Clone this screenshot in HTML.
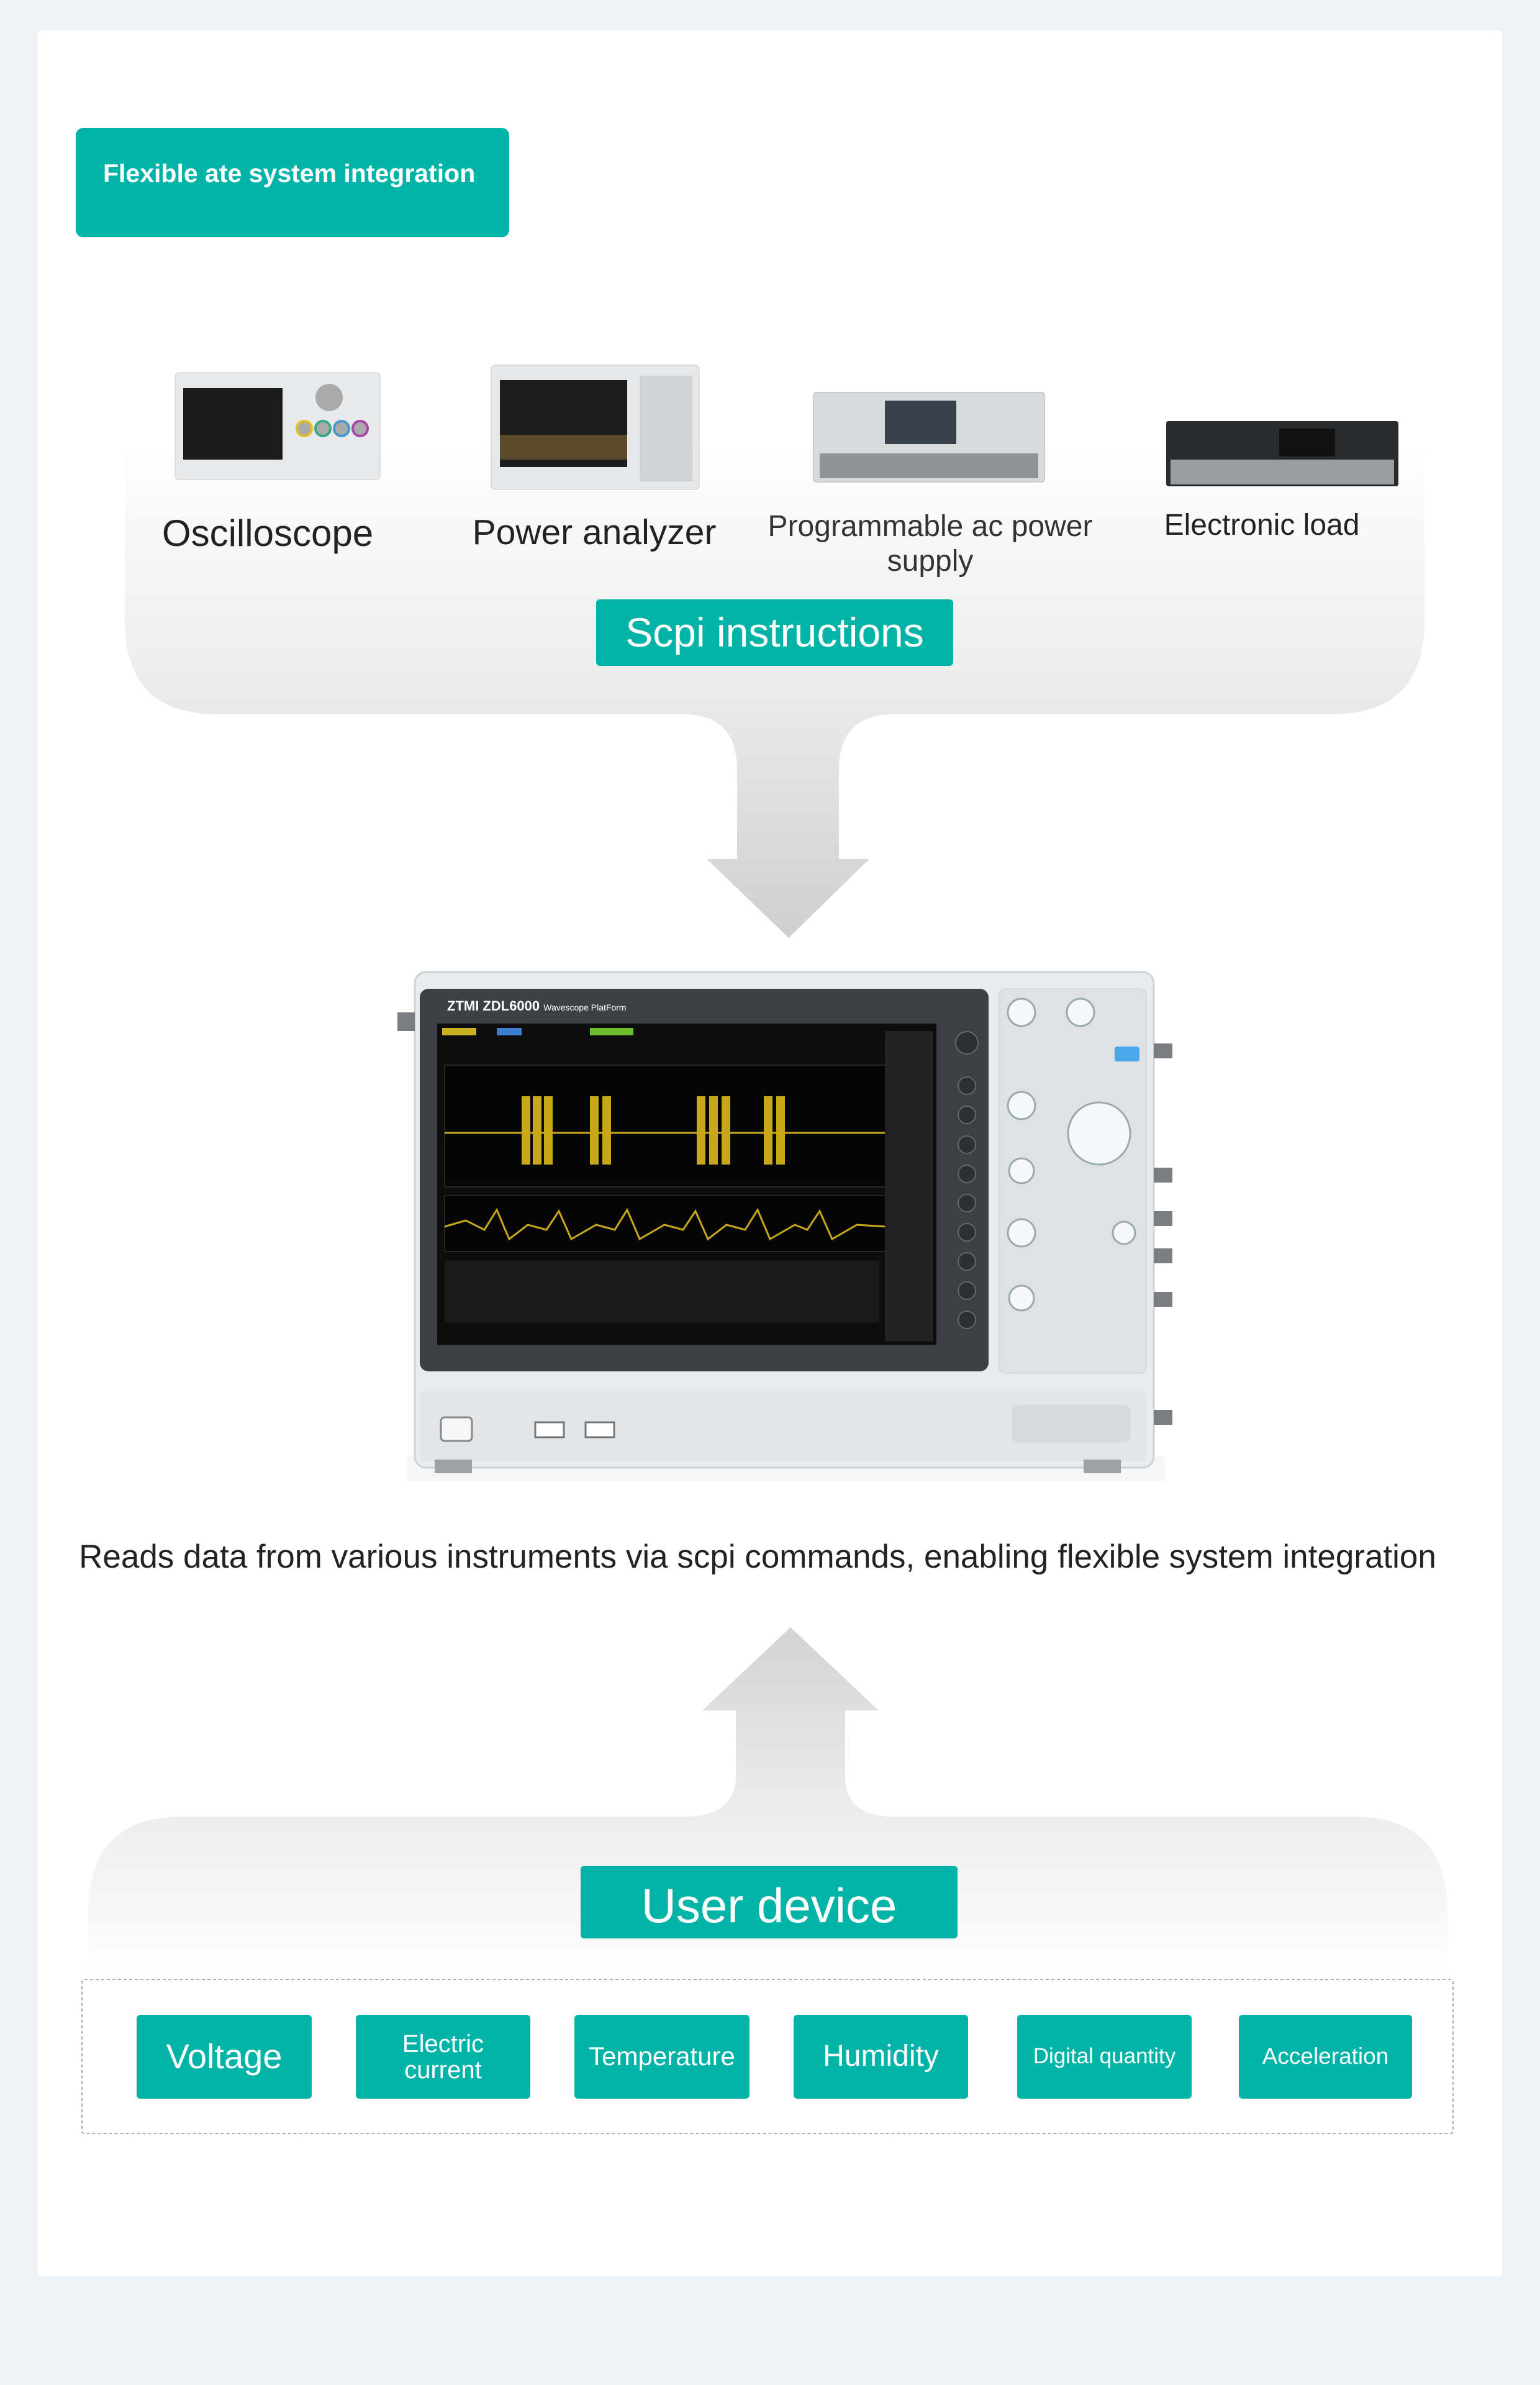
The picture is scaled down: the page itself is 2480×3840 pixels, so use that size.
<!DOCTYPE html>
<html><head><meta charset="utf-8"><style>
html,body{margin:0;padding:0}
body{width:2480px;height:3840px;background:#eef3f8;position:relative;overflow:hidden;font-family:"Liberation Sans",sans-serif}
.card{position:absolute;left:61px;top:49px;width:2358px;height:3616px;background:#fff;border-radius:6px}
.btn{position:absolute;background:#02b3a7;color:#fff;display:flex;align-items:center;justify-content:center;text-align:center;border-radius:6px;line-height:1.05}
.lbl{position:absolute;color:#222;text-align:center;transform:translateX(-50%);white-space:nowrap}
svg{position:absolute;left:0;top:0}
</style></head><body>
<div class="card"></div>
<svg width="2480" height="3840" viewBox="0 0 2480 3840">
<defs>
<linearGradient id="g1" x1="0" y1="700" x2="0" y2="1510" gradientUnits="userSpaceOnUse">
<stop offset="0" stop-color="#fff"/><stop offset="0.45" stop-color="#eeeeee"/><stop offset="1" stop-color="#cfcfcf"/></linearGradient>
<linearGradient id="g2" x1="0" y1="2620" x2="0" y2="3190" gradientUnits="userSpaceOnUse">
<stop offset="0" stop-color="#d3d3d3"/><stop offset="0.55" stop-color="#eeeeee"/><stop offset="1" stop-color="#fff"/></linearGradient>
</defs>
<path d="M201,720 L201,1000 Q201,1150 351,1150 L1100,1150 Q1187,1150 1187,1240 L1187,1383 L1138,1383 L1270,1510 L1400,1383 L1351,1383 L1351,1240 Q1351,1150 1440,1150 L2144,1150 Q2294,1150 2294,1000 L2294,720 Z" fill="url(#g1)"/>
<path d="M1273,2620 L1415,2754 L1361,2754 L1361,2860 Q1361,2925 1440,2925 L2180,2925 Q2331,2925 2331,3080 L2331,3190 L142,3190 L142,3080 Q142,2925 293,2925 L1100,2925 Q1185,2925 1185,2860 L1185,2754 L1131,2754 Z" fill="url(#g2)"/>
<rect x="132" y="3187" width="2208" height="248" fill="#fff" stroke="#aaa" stroke-width="2" stroke-dasharray="5,4" rx="4"/>
<rect x="282" y="600" width="330" height="172" rx="6" fill="#e8e9ea" stroke="#ccc"/>
<rect x="295" y="625" width="160" height="115" fill="#1b1b1b"/>
<g fill="#aaa"><circle cx="490" cy="690" r="12" stroke="#e0c020" stroke-width="4"/><circle cx="520" cy="690" r="12" stroke="#3a8" stroke-width="4"/><circle cx="550" cy="690" r="12" stroke="#49c" stroke-width="4"/><circle cx="580" cy="690" r="12" stroke="#a4a" stroke-width="4"/><circle cx="530" cy="640" r="22"/></g>
<rect x="791" y="588" width="335" height="200" rx="6" fill="#e6e7e8" stroke="#ccc"/>
<rect x="805" y="612" width="205" height="140" fill="#1d1d1d"/>
<rect x="805" y="700" width="205" height="40" fill="#5a4a2a"/>
<rect x="1030" y="605" width="85" height="170" fill="#d0d2d4"/>
<rect x="1310" y="632" width="372" height="144" rx="4" fill="#d8dadc" stroke="#aaa"/>
<rect x="1425" y="645" width="115" height="70" fill="#38414a"/>
<rect x="1320" y="730" width="352" height="40" fill="#8f9296"/>
<rect x="1878" y="678" width="374" height="105" rx="4" fill="#2a2b2d"/>
<rect x="1885" y="740" width="360" height="40" fill="#9a9ca0"/>
<rect x="2060" y="690" width="90" height="45" fill="#111"/>
<rect x="655" y="2345" width="1220" height="40" fill="#f0f0f0" opacity=".6"/>
<rect x="668" y="1565" width="1190" height="798" rx="18" fill="#e9ebed" stroke="#cfd2d5" stroke-width="3"/>
<rect x="640" y="1630" width="28" height="30" fill="#7a7e83"/>
<rect x="1858" y="1680" width="30" height="24" fill="#7a7e83"/>
<rect x="1858" y="1880" width="30" height="24" fill="#7a7e83"/>
<rect x="1858" y="1950" width="30" height="24" fill="#7a7e83"/>
<rect x="1858" y="2010" width="30" height="24" fill="#7a7e83"/>
<rect x="1858" y="2080" width="30" height="24" fill="#7a7e83"/>
<rect x="1858" y="2270" width="30" height="24" fill="#7a7e83"/>
<rect x="676" y="1592" width="916" height="616" rx="14" fill="#3c4045"/>
<text x="720" y="1627" font-size="22" fill="#fff" font-weight="bold" font-family="Liberation Sans, sans-serif">ZTMI ZDL6000 <tspan font-size="14" font-weight="normal">Wavescope PlatForm</tspan></text>
<rect x="704" y="1648" width="804" height="517" fill="#0c0c0c"/>
<rect x="712" y="1655" width="55" height="12" fill="#c9b020"/><rect x="800" y="1655" width="40" height="12" fill="#3a7fd0"/><rect x="950" y="1655" width="70" height="12" fill="#6cbf2a"/>
<rect x="716" y="1715" width="712" height="196" fill="#050505" stroke="#444"/>
<line x1="716" y1="1824" x2="1428" y2="1824" stroke="#c8a818" stroke-width="3"/>
<g fill="#c8a818"><rect x="840" y="1765" width="14" height="110"/><rect x="858" y="1765" width="14" height="110"/><rect x="876" y="1765" width="14" height="110"/><rect x="950" y="1765" width="14" height="110"/><rect x="970" y="1765" width="14" height="110"/><rect x="1122" y="1765" width="14" height="110"/><rect x="1142" y="1765" width="14" height="110"/><rect x="1162" y="1765" width="14" height="110"/><rect x="1230" y="1765" width="14" height="110"/><rect x="1250" y="1765" width="14" height="110"/></g>
<rect x="716" y="1925" width="712" height="90" fill="#050505" stroke="#444"/>
<polyline points="716,1975 750,1965 780,1980 800,1948 820,1995 850,1972 880,1980 900,1950 920,1995 960,1972 990,1980 1010,1948 1030,1995 1070,1972 1100,1980 1120,1950 1140,1995 1170,1972 1200,1980 1220,1948 1240,1995 1280,1972 1300,1980 1320,1950 1340,1995 1380,1972 1428,1975" fill="none" stroke="#c8a818" stroke-width="3"/>
<rect x="716" y="2030" width="700" height="100" fill="#1a1a1a"/>
<rect x="1425" y="1660" width="78" height="500" fill="#222"/>
<g fill="#2c2f33" stroke="#666" stroke-width="2"><circle cx="1557" cy="1679" r="18"/><circle cx="1557" cy="1748" r="14"/><circle cx="1557" cy="1795" r="14"/><circle cx="1557" cy="1843" r="14"/><circle cx="1557" cy="1890" r="14"/><circle cx="1557" cy="1937" r="14"/><circle cx="1557" cy="1984" r="14"/><circle cx="1557" cy="2031" r="14"/><circle cx="1557" cy="2078" r="14"/><circle cx="1557" cy="2125" r="14"/></g>
<rect x="1609" y="1592" width="237" height="619" rx="10" fill="#dfe2e5" stroke="#c8ccd0"/>
<g fill="#f6f7f8" stroke="#9aa" stroke-width="3"><circle cx="1645" cy="1630" r="22"/><circle cx="1740" cy="1630" r="22"/><circle cx="1645" cy="1780" r="22"/><circle cx="1770" cy="1825" r="50"/><circle cx="1645" cy="1885" r="20"/><circle cx="1645" cy="1985" r="22"/><circle cx="1810" cy="1985" r="18"/><circle cx="1645" cy="2090" r="20"/></g>
<rect x="1795" y="1685" width="40" height="24" rx="4" fill="#4aa8e8"/>
<rect x="676" y="2240" width="1170" height="113" rx="6" fill="#e3e6e9"/>
<rect x="710" y="2282" width="50" height="38" rx="6" fill="#f6f6f6" stroke="#888" stroke-width="3"/>
<rect x="862" y="2290" width="46" height="24" fill="#fff" stroke="#777" stroke-width="3"/>
<rect x="943" y="2290" width="46" height="24" fill="#fff" stroke="#777" stroke-width="3"/>
<rect x="1630" y="2262" width="190" height="60" rx="10" fill="#d6d9dc"/>
<rect x="700" y="2350" width="60" height="22" fill="#9ea2a6"/><rect x="1745" y="2350" width="60" height="22" fill="#9ea2a6"/>
</svg>
<div class="btn" style="left:122px;top:206px;width:698px;height:176px;font-size:41px;font-weight:bold;align-items:flex-start;justify-content:flex-start;padding-left:44px;padding-top:52px;box-sizing:border-box;border-radius:12px">Flexible ate system integration</div>
<div class="lbl" style="left:431px;top:824px;font-size:60px">Oscilloscope</div>
<div class="lbl" style="left:957px;top:824px;font-size:57px">Power analyzer</div>
<div class="lbl" style="left:1498px;top:820px;font-size:48px;line-height:56px;color:#333">Programmable ac power<br>supply</div>
<div class="lbl" style="left:2032px;top:818px;font-size:48px">Electronic load</div>
<div class="btn" style="left:960px;top:965px;width:575px;height:107px;font-size:66px">Scpi instructions</div>
<div class="lbl" style="left:1220px;top:2476px;font-size:53px">Reads data from various instruments via scpi commands, enabling flexible system integration</div>
<div class="btn" style="left:935px;top:3004px;width:607px;height:117px;font-size:78px;padding-top:12px;box-sizing:border-box">User device</div>
<div class="btn" style="left:220px;top:3244px;width:282px;height:135px;font-size:56px">Voltage</div>
<div class="btn" style="left:573px;top:3244px;width:281px;height:135px;font-size:40px">Electric<br>current</div>
<div class="btn" style="left:925px;top:3244px;width:282px;height:135px;font-size:42px">Temperature</div>
<div class="btn" style="left:1278px;top:3244px;width:281px;height:135px;font-size:48px">Humidity</div>
<div class="btn" style="left:1638px;top:3244px;width:281px;height:135px;font-size:35px">Digital quantity</div>
<div class="btn" style="left:1995px;top:3244px;width:279px;height:135px;font-size:37px">Acceleration</div>
</body></html>
